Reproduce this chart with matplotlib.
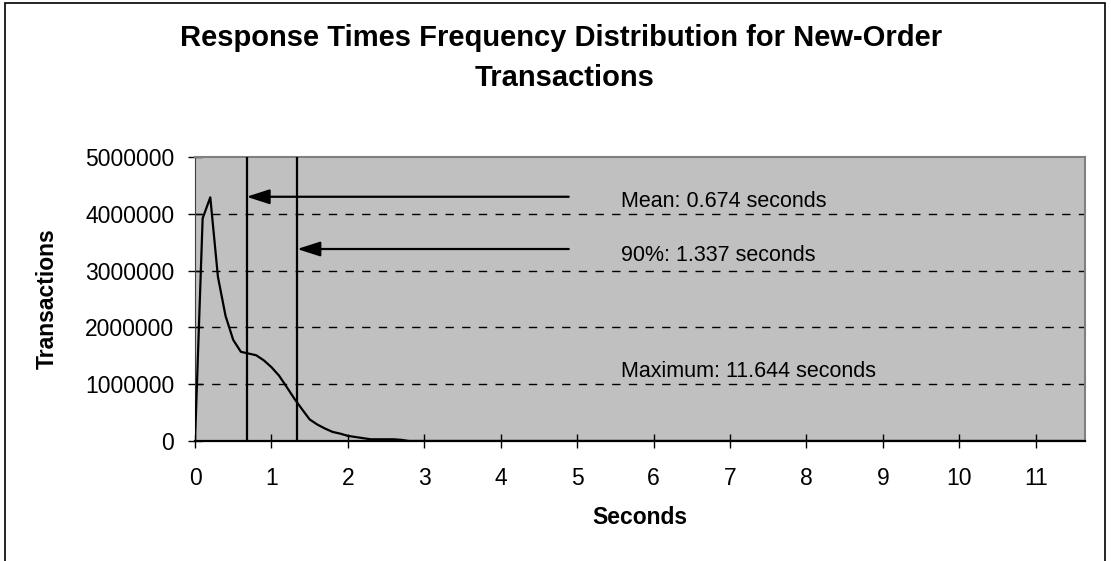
import matplotlib
matplotlib.use("Agg")
import matplotlib.pyplot as plt
from matplotlib.patches import Rectangle

plt.rcParams['font.family'] = ['Liberation Sans', 'DejaVu Sans']

# response time buckets (seconds) and transaction counts
seconds = [0.0, 0.1, 0.2, 0.3, 0.4, 0.5, 0.6, 0.7, 0.8, 0.9, 1.0,
           1.1, 1.2, 1.3, 1.4, 1.5, 1.6, 1.7, 1.8, 1.9, 2.0,
           2.1, 2.2, 2.3, 2.4, 2.5, 2.6, 2.7, 2.8, 11.6]
transactions = [0, 3920000, 4290000, 2890000, 2200000, 1780000, 1570000, 1540000,
                1510000, 1420000, 1300000, 1150000, 950000, 745000, 560000,
                380000, 290000, 220000, 160000, 130000, 90000, 70000, 50000,
                30000, 30000, 30000, 30000, 20000, 0, 0]

mean_t = 0.674
pct90_t = 1.337
max_t = 11.644
mean_label = 'Mean: 0.674 seconds'
pct90_label = '90%: 1.337 seconds'
max_label = 'Maximum: 11.644 seconds'

W, H = 1111, 561
fig = plt.figure(figsize=(W / 100, H / 100), dpi=100)
fig.patch.set_facecolor('white')

# outer chart border (bottom edge is cut off in the original)
fig.patches.append(Rectangle((5 / W, -0.2), 1100 / W, 1.2 - 3 / H,
                             transform=fig.transFigure, fill=False,
                             edgecolor='black', linewidth=1.2))

ax = fig.add_axes([195 / W, (H - 441) / H, 890 / W, 284 / H])
ax.set_facecolor('#c0c0c0')

ax.plot(seconds, transactions, color='black', linewidth=1.6, zorder=3)
ax.axvline(mean_t, color='black', linewidth=1.6, zorder=3)
ax.axvline(pct90_t, color='black', linewidth=1.6, zorder=3)

for y in [1000000, 2000000, 3000000, 4000000]:
    ax.axhline(y, color='black', linewidth=1.0, linestyle=(0, (6, 6)), zorder=2)

arrow = dict(arrowstyle='-|>,head_length=1.4,head_width=0.45', color='black',
             linewidth=1.6, shrinkA=0, shrinkB=0)
ax.annotate('', xy=(mean_t, 4300000), xytext=(4.89, 4300000), arrowprops=arrow)
ax.annotate('', xy=(pct90_t, 3380000), xytext=(4.89, 3380000), arrowprops=arrow)

ax.text(5.57, 4210000, mean_label, fontsize=15.5, va='center', ha='left')
ax.text(5.57, 3270000, pct90_label, fontsize=15.5, va='center', ha='left')
ax.text(5.57, 1220000, max_label, fontsize=15.5, va='center', ha='left')

ax.set_xlim(0, max_t)
ax.set_ylim(0, 5000000)
ax.set_xticks(range(0, 12))
ax.set_yticks(range(0, 5000001, 1000000))
ax.set_yticklabels([str(v) for v in range(0, 5000001, 1000000)])
ax.tick_params(direction='inout', length=10, width=1.0, labelsize=16.5)
ax.tick_params(axis='x', pad=14)
ax.tick_params(axis='y', pad=10)

for side in ['top', 'right']:
    ax.spines[side].set_color('#808080')
    ax.spines[side].set_linewidth(1.5)
ax.spines['left'].set_color('#404040')
ax.spines['bottom'].set_color('black')
ax.spines['bottom'].set_linewidth(1.6)

ax.set_xlabel('Seconds', fontsize=16.5, fontweight='bold', va='center')
ax.xaxis.set_label_coords(0.5, -(518 - 441) / 284)
ax.set_ylabel('Transactions', fontsize=16.5, fontweight='bold', va='center')
ax.yaxis.set_label_coords(-(195 - 47) / 890, 0.5)

fig.text(561 / W, 1 - 38 / H, 'Response Times Frequency Distribution for New-Order',
         fontsize=21, fontweight='bold', ha='center', va='center')
fig.text(565 / W, 1 - 78 / H, 'Transactions',
         fontsize=21, fontweight='bold', ha='center', va='center')

fig.savefig('out.png', dpi=100)
